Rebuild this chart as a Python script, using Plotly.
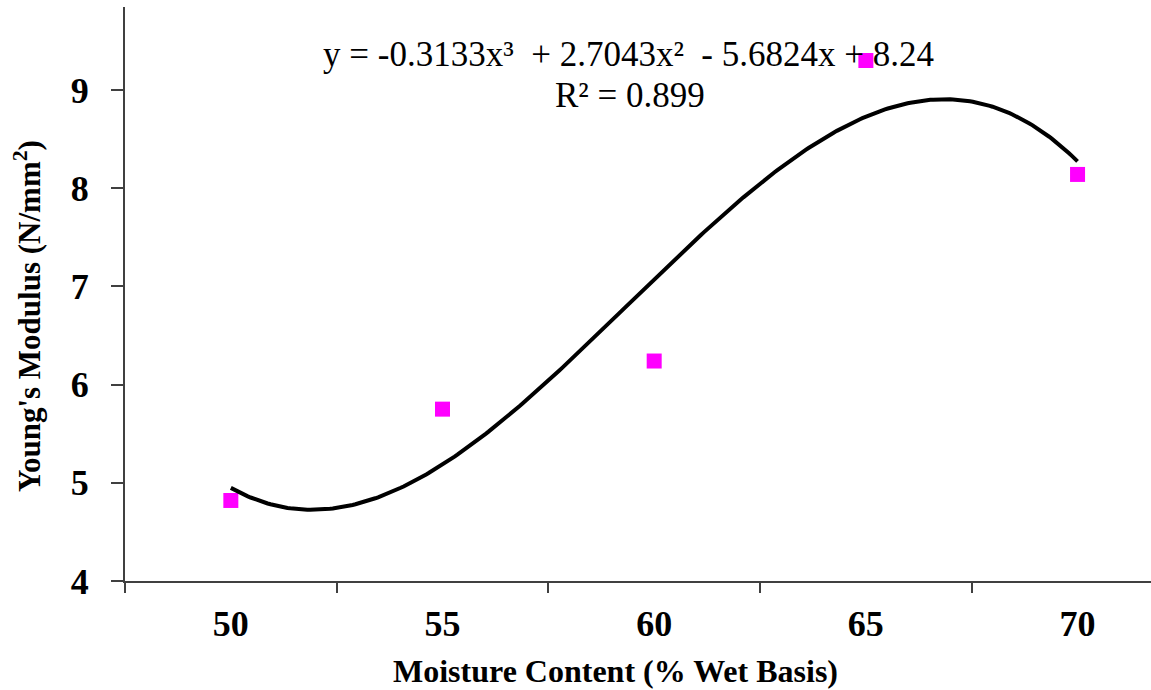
import numpy as np
import plotly.graph_objects as go

# Data
categories = ["50", "55", "60", "65", "70"]
cat_pos = [1, 2, 3, 4, 5]
youngs_modulus = [4.82, 5.75, 6.24, 9.30, 8.14]
# Polynomial trendline coefficients shown on chart (x = category index 1..5)
trend_coeffs = [-0.3133, 2.7043, -5.6824, 8.24]
r_squared = 0.899
y_ticks = [4, 5, 6, 7, 8, 9]

W, H = 1151, 690
L, R, T, B = 125, 0, 7, 109
PW, PH = W - L - R, H - T - B

xt = np.linspace(cat_pos[0], cat_pos[-1], 300)
yt = np.polyval(trend_coeffs, xt)

fig = go.Figure()
fig.add_trace(go.Scatter(
    x=cat_pos, y=youngs_modulus, mode="markers",
    marker=dict(symbol="square", size=15, color="#FF00FF", line=dict(width=0)),
    showlegend=False, cliponaxis=False))
fig.add_trace(go.Scatter(
    x=xt, y=yt, mode="lines", line=dict(color="black", width=4),
    showlegend=False, cliponaxis=False))

axis_color = "#404040"
tick_font = dict(size=36, family="Liberation Serif", color="black", weight="bold")
fig.update_layout(
    width=W, height=H,
    margin=dict(l=L, r=R, t=T, b=B, autoexpand=False),
    paper_bgcolor="white", plot_bgcolor="white",
    font=dict(family="Liberation Serif", color="black"),
    xaxis=dict(
        range=[0.5, 5.347], showgrid=False, zeroline=False,
        showline=True, linecolor=axis_color, linewidth=2,
        tickvals=cat_pos, ticktext=categories, ticks="",
        tickfont=tick_font, ticklabelstandoff=10,
        minor=dict(tick0=0.5, dtick=1, ticks="outside", ticklen=10,
                   tickwidth=2, tickcolor=axis_color, showgrid=False),
    ),
    yaxis=dict(
        range=[4, 9.845], showgrid=False, zeroline=False,
        showline=True, linecolor=axis_color, linewidth=2,
        tickvals=y_ticks, ticks="outside", ticklen=12, tickwidth=2,
        tickcolor=axis_color, tickfont=tick_font, ticklabelstandoff=15,
    ),
)

eq_text = ("y = {:.4f}x³  + {:.4f}x²  - {:.4f}x + {}"
           .format(trend_coeffs[0], trend_coeffs[1], -trend_coeffs[2], trend_coeffs[3]))
fig.add_annotation(text=eq_text, xref="paper", yref="paper",
                   x=(628 - L) / PW, y=(H - B - 55) / PH,
                   xanchor="center", yanchor="middle", showarrow=False,
                   font=dict(size=35, family="Liberation Serif", color="black"))
fig.add_annotation(text="R² = {}".format(r_squared), xref="paper", yref="paper",
                   x=(630 - L) / PW, y=(H - B - 96) / PH,
                   xanchor="center", yanchor="middle", showarrow=False,
                   font=dict(size=35, family="Liberation Serif", color="black"))
# Axis titles
fig.add_annotation(text="<b>Moisture Content (% Wet Basis)</b>", xref="paper", yref="paper",
                   x=(615 - L) / PW, y=-(671 - (H - B)) / PH,
                   xanchor="center", yanchor="middle", showarrow=False,
                   font=dict(size=32, family="Liberation Serif", color="black"))
fig.add_annotation(text="<b>Young's Modulus (N/mm<sup>2</sup>)</b>", xref="paper", yref="paper",
                   x=-(L - 27) / PW, y=(H - B - 316) / PH,
                   xanchor="center", yanchor="middle", showarrow=False, textangle=-90,
                   font=dict(size=31, family="Liberation Serif", color="black"))

fig.write_html("out.html", config=dict(displayModeBar=False),
               post_script="document.body.style.margin='0';document.body.style.overflow='hidden';")
